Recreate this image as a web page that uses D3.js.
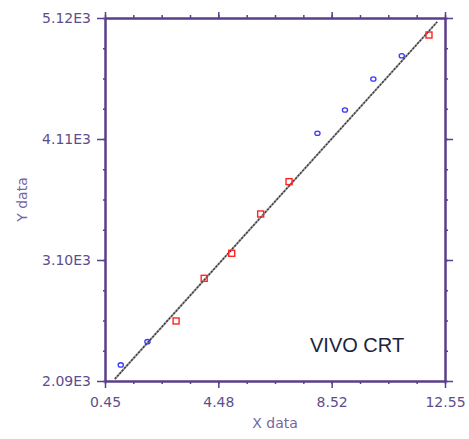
<!DOCTYPE html>
<html>
<head>
<meta charset="utf-8">
<script src="https://cdn.jsdelivr.net/npm/d3@7"></script>
<style>
  body { margin: 0; background: #fff; }
  .tick text { font-family: "DejaVu Sans", sans-serif; }
</style>
</head>
<body>
<div id="chart"></div>
<script>
// calibration points, two groups
let blueX = [1.01, 1.96, 8.01, 8.99, 10.0, 11.01]
let blueY = [2224, 2418, 4158, 4352, 4611, 4805]
let redX = [2.98, 3.98, 4.96, 5.99, 7.0, 11.98]
let redY = [2591, 2947, 3156, 3484, 3754, 4978]

// fitted line end points
let fitX = [0.8, 12.27]
let fitY = [2107, 5087]

let xTicks = [0.45, 4.4833, 8.5167, 12.55]
let xTickLabels = ['0.45', '4.48', '8.52', '12.55']
let yTicks = [2090, 3100, 4110, 5120]
let yTickLabels = ['2.09E3', '3.10E3', '4.11E3', '5.12E3']

let margin = { top: 18, left: 105, right: 24, bottom: 58 }
let width = 469 - margin.left - margin.right
let height = 439 - margin.top - margin.bottom

let axisColor = '#5a3e8c'
let labelColor = '#5e4d8e'

let svg = d3
  .select('#chart')
  .append('svg')
  .attr('width', 469)
  .attr('height', 439)
  .append('g')
  .attr('transform', `translate(${margin.left}, ${margin.top})`)

let xPositionScale = d3.scaleLinear().domain([0.45, 12.55]).range([0, width])
let yPositionScale = d3.scaleLinear().domain([2090, 5120]).range([height, 0])

// minor ticks: four steps between each labelled tick
let xMinor = d3.range(0, 13).map(i => 0.45 + (i * 12.1) / 12)
let yMinor = d3.range(0, 13).map(i => 2090 + (i * 3030) / 12)

function styleAxis(g) {
  g.selectAll('path.domain').attr('stroke', axisColor).attr('stroke-width', 2)
  g.selectAll('.tick line').attr('stroke', axisColor).attr('stroke-width', 1.5)
  g.selectAll('.tick text')
    .attr('fill', labelColor)
    .style('font-size', '14px')
}

// minor tick marks
svg.append('g')
  .attr('transform', `translate(0, ${height})`)
  .call(d3.axisBottom(xPositionScale).tickValues(xMinor).tickSize(3).tickSizeOuter(0).tickFormat(''))
  .call(styleAxis)
svg.append('g')
  .call(d3.axisTop(xPositionScale).tickValues(xMinor).tickSize(3).tickSizeOuter(0).tickFormat(''))
  .call(styleAxis)
svg.append('g')
  .call(d3.axisLeft(yPositionScale).tickValues(yMinor).tickSize(2).tickSizeOuter(0).tickFormat(''))
  .call(styleAxis)
svg.append('g')
  .attr('transform', `translate(${width}, 0)`)
  .call(d3.axisRight(yPositionScale).tickValues(yMinor).tickSize(3).tickSizeOuter(0).tickFormat(''))
  .call(styleAxis)

// major ticks with labels
svg.append('g')
  .attr('transform', `translate(0, ${height})`)
  .call(
    d3.axisBottom(xPositionScale)
      .tickValues(xTicks)
      .tickSize(7)
      .tickSizeOuter(0)
      .tickPadding(9)
      .tickFormat((d, i) => xTickLabels[i])
  )
  .call(styleAxis)

svg.append('g')
  .call(d3.axisTop(xPositionScale).tickValues(xTicks).tickSize(6).tickSizeOuter(0).tickFormat(''))
  .call(styleAxis)

svg.append('g')
  .call(
    d3.axisLeft(yPositionScale)
      .tickValues(yTicks)
      .tickSize(8)
      .tickSizeOuter(0)
      .tickPadding(6)
      .tickFormat((d, i) => yTickLabels[i])
  )
  .call(styleAxis)

svg.append('g')
  .attr('transform', `translate(${width}, 0)`)
  .call(d3.axisRight(yPositionScale).tickValues(yTicks).tickSize(8).tickSizeOuter(0).tickFormat(''))
  .call(styleAxis)

// axis titles
svg.append('text')
  .attr('x', width / 2)
  .attr('y', height + 47)
  .attr('text-anchor', 'middle')
  .attr('fill', '#7667a3')
  .style('font-family', 'DejaVu Sans, sans-serif')
  .style('font-size', '14px')
  .text('X data')

svg.append('text')
  .attr('transform', `translate(${22 - margin.left}, ${height / 2}) rotate(-90)`)
  .attr('text-anchor', 'middle')
  .attr('dy', '0.35em')
  .attr('fill', '#7667a3')
  .style('font-family', 'DejaVu Sans, sans-serif')
  .style('font-size', '14px')
  .text('Y data')

// fitted line: grey body with a darker dash on top
let line = d3
  .line()
  .x(d => xPositionScale(d[0]))
  .y(d => yPositionScale(d[1]))

svg.append('path')
  .datum(d3.zip(fitX, fitY))
  .attr('d', line)
  .attr('fill', 'none')
  .attr('stroke', '#a0a0a0')
  .attr('stroke-width', 2)

svg.append('path')
  .datum(d3.zip(fitX, fitY))
  .attr('d', line)
  .attr('fill', 'none')
  .attr('stroke', '#3a3a3a')
  .attr('stroke-width', 1.4)
  .attr('stroke-dasharray', '2,1.5')

// blue circles
svg.selectAll('.blue-point')
  .data(d3.zip(blueX, blueY))
  .enter()
  .append('ellipse')
  .attr('class', 'blue-point')
  .attr('cx', d => xPositionScale(d[0]))
  .attr('cy', d => yPositionScale(d[1]))
  .attr('rx', 2.6)
  .attr('ry', 2.2)
  .attr('fill', 'none')
  .attr('stroke', '#3a3aff')
  .attr('stroke-width', 1.3)

// red squares
svg.selectAll('.red-point')
  .data(d3.zip(redX, redY))
  .enter()
  .append('rect')
  .attr('class', 'red-point')
  .attr('x', d => xPositionScale(d[0]) - 3)
  .attr('y', d => yPositionScale(d[1]) - 3)
  .attr('width', 6)
  .attr('height', 6)
  .attr('fill', 'none')
  .attr('stroke', '#ff2222')
  .attr('stroke-width', 1.4)

svg.append('text')
  .attr('x', 205)
  .attr('y', 334)
  .attr('fill', '#1c2440')
  .style('font-family', 'Liberation Sans, Arial, sans-serif')
  .style('font-size', '20px')
  .text('VIVO CRT')
</script>
</body>
</html>
